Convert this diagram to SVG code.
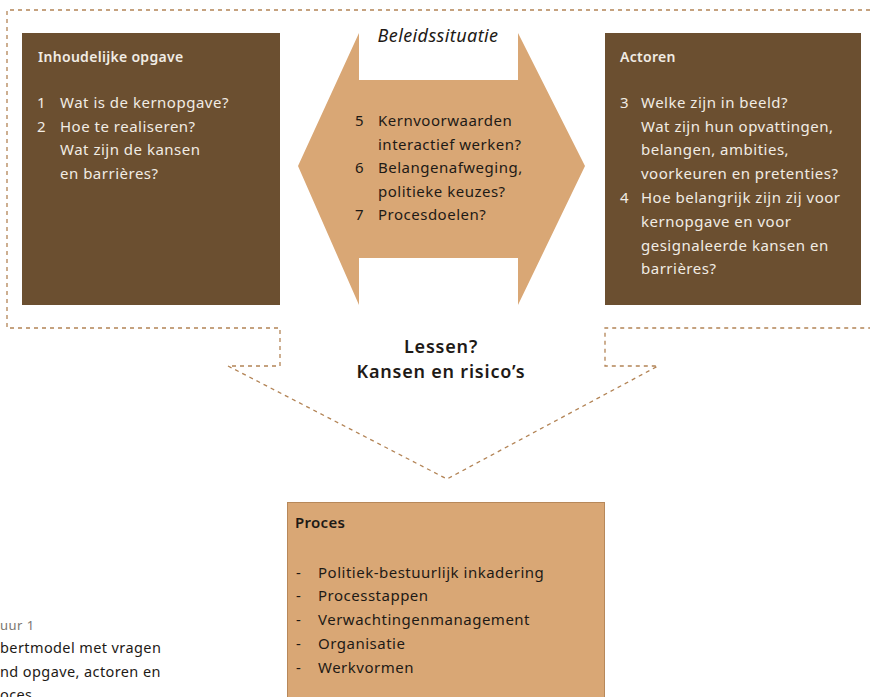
<svg xmlns="http://www.w3.org/2000/svg" width="870" height="697" viewBox="0 0 870 697">
<style>
.t{font-family:"Noto Sans","Liberation Sans",sans-serif;font-size:15px;letter-spacing:0.5px}
.lt{fill:#F1ECE4}
.dk{fill:#1E1A16}
.hd{font-weight:600;font-size:14px;letter-spacing:0.3px}
.dash{fill:none;stroke:#B38456;stroke-width:1.3;stroke-dasharray:4 4}
.big{font-size:18px;font-weight:600;letter-spacing:0.8px}
</style>
<rect width="870" height="697" fill="#FFFFFF"/>
<g id="connectors">
<path class="dash" d="M870,10 H7 V328 H280 V366 H228 L447,479 L658,366 H605 V328 H870"/>
</g>
<g id="beleidssituatie">
<polygon points="359,33 359,80 518,80 518,33 585,166 518,305 518,258 359,258 359,305 298,166" fill="#D9A775"/>
<text class="t dk" x="438" y="42" text-anchor="middle" style="font-style:italic;font-size:18px;letter-spacing:0.4px">Beleidssituatie</text>
<text class="t dk" x="355" y="126">5</text><text class="t dk" x="378" y="126">Kernvoorwaarden</text>
<text class="t dk" x="378" y="150">interactief werken?</text>
<text class="t dk" x="355" y="173">6</text><text class="t dk" x="378" y="173">Belangenafweging,</text>
<text class="t dk" x="378" y="197">politieke keuzes?</text>
<text class="t dk" x="355" y="220">7</text><text class="t dk" x="378" y="220">Procesdoelen?</text>
</g>
<g id="inhoudelijke-opgave">
<rect x="22" y="33" width="258" height="272" fill="#6B4F30"/>
<text class="t lt hd" x="38" y="62">Inhoudelijke opgave</text>
<text class="t lt" x="37" y="108">1</text><text class="t lt" x="60" y="108">Wat is de kernopgave?</text>
<text class="t lt" x="37" y="132">2</text><text class="t lt" x="60" y="132">Hoe te realiseren?</text>
<text class="t lt" x="60" y="155">Wat zijn de kansen</text>
<text class="t lt" x="60" y="179">en barrières?</text>
</g>
<g id="actoren">
<rect x="605" y="33" width="256" height="272" fill="#6B4F30"/>
<text class="t lt hd" x="620" y="62">Actoren</text>
<text class="t lt" x="620" y="108">3</text><text class="t lt" x="641" y="108">Welke zijn in beeld?</text>
<text class="t lt" x="641" y="132">Wat zijn hun opvattingen,</text>
<text class="t lt" x="641" y="155">belangen, ambities,</text>
<text class="t lt" x="641" y="179">voorkeuren en pretenties?</text>
<text class="t lt" x="620" y="203">4</text><text class="t lt" x="641" y="203">Hoe belangrijk zijn zij voor</text>
<text class="t lt" x="641" y="227">kernopgave en voor</text>
<text class="t lt" x="641" y="251">gesignaleerde kansen en</text>
<text class="t lt" x="641" y="274">barrières?</text>
</g>
<g id="lessen">
<text class="t dk big" x="441" y="353" text-anchor="middle">Lessen?</text>
<text class="t dk big" x="441" y="378" text-anchor="middle">Kansen en risico’s</text>
</g>
<g id="proces">
<rect x="287.5" y="502.5" width="317" height="200" fill="#D9A775" stroke="#B7885A" stroke-width="1"/>
<text class="t dk hd" x="295" y="528" style="font-size:15px">Proces</text>
<text class="t dk" x="296" y="578">-</text><text class="t dk" x="318" y="578">Politiek-bestuurlijk inkadering</text>
<text class="t dk" x="296" y="601">-</text><text class="t dk" x="318" y="601">Processtappen</text>
<text class="t dk" x="296" y="625">-</text><text class="t dk" x="318" y="625">Verwachtingenmanagement</text>
<text class="t dk" x="296" y="649">-</text><text class="t dk" x="318" y="649">Organisatie</text>
<text class="t dk" x="296" y="673">-</text><text class="t dk" x="318" y="673">Werkvormen</text>
</g>
<g id="caption">
<text class="t" x="0" y="630" fill="#7A7670" style="font-size:13px">uur 1</text>
<text class="t dk" x="0" y="653" style="font-size:14.5px;letter-spacing:0.4px">bertmodel met vragen</text>
<text class="t dk" x="0" y="677" style="font-size:14.5px;letter-spacing:0.4px">nd opgave, actoren en</text>
<text class="t dk" x="0" y="700" style="font-size:14.5px;letter-spacing:0.4px">oces</text>
</g>
</svg>
